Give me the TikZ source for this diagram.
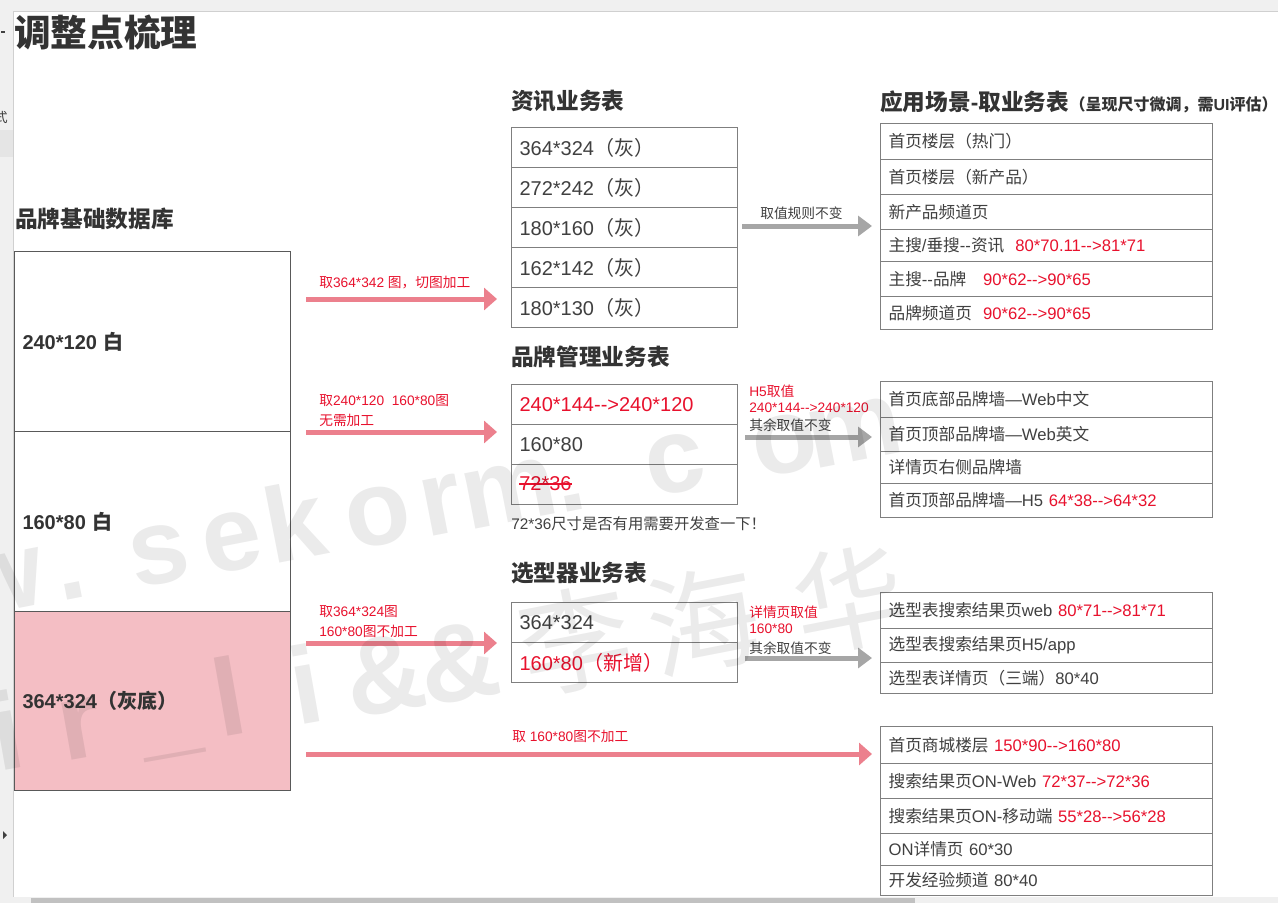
\documentclass[tikz,border=0pt]{standalone}
\usepackage{fontspec}
\setmainfont{Liberation Sans}
\newfontfamily\cjkf{Noto Sans CJK SC}
\newfontfamily\latf{Liberation Sans}
\usetikzlibrary{arrows.meta}
\XeTeXinterchartokenstate=1
\newXeTeXintercharclass\mycjk
\newcount\cidx
\cidx="3000 \loop \XeTeXcharclass\cidx=\mycjk \advance\cidx by 1 \ifnum\cidx<"3040 \repeat
\cidx="4E00 \loop \XeTeXcharclass\cidx=\mycjk \advance\cidx by 1 \ifnum\cidx<"A000 \repeat
\cidx="FF00 \loop \XeTeXcharclass\cidx=\mycjk \advance\cidx by 1 \ifnum\cidx<"FFF0 \repeat
\XeTeXcharclass"2014=0
\XeTeXinterchartoks 0 \mycjk = {\cjkf}
\XeTeXinterchartoks 4095 \mycjk = {\cjkf}
\XeTeXinterchartoks \mycjk 0 = {\latf}
\XeTeXinterchartoks \mycjk 4095 = {\latf}
\newcommand{\dd}{-\kern0pt-}
\definecolor{txt}{HTML}{404040}
\definecolor{hd}{HTML}{333333}
\definecolor{rd}{HTML}{E8112D}
\definecolor{pk}{HTML}{EC808D}
\definecolor{gy}{HTML}{A6A6A6}
\definecolor{bd}{HTML}{7F7F7F}
\definecolor{lbd}{HTML}{595959}
\definecolor{pfill}{HTML}{F4BEC4}
\definecolor{chrome}{HTML}{F0F0F0}
\definecolor{chromeln}{HTML}{D0D0D0}
\definecolor{thumb}{HTML}{C1C1C1}
\tikzset{
  cellbox/.style={draw=bd, line width=0.9pt, anchor=north west, inner xsep=6pt, inner ysep=0pt, align=left, text=txt},
  ltab/.style={cellbox, font=\fontsize{15pt}{18pt}\selectfont},
  rtab/.style={cellbox, font=\fontsize{12.5pt}{15pt}\selectfont},
  lbox/.style={cellbox, draw=lbd, line width=0.75pt, font=\bfseries\fontsize{15pt}{18pt}\selectfont, text=hd},
  head/.style={anchor=west, inner sep=0pt, text=hd, font=\bfseries\fontsize{17pt}{20pt}\selectfont},
  lab/.style={anchor=west, inner sep=0pt, font=\fontsize{10.3pt}{12pt}\selectfont},
  pkarrow/.style={draw=pk, line width=3.75pt, -{Triangle[length=9.75pt,width=16.5pt]}},
  gyarrow/.style={draw=gy, line width=3.75pt, -{Triangle[length=10.5pt,width=15pt]}},
  wm/.style={inner sep=0pt, anchor=base},
}
\newcommand{\mkcell}[7]{%
  \pgfmathsetlengthmacro\mkcw{(#4-#3)*0.75pt}%
  \pgfmathsetlengthmacro\mkch{(#6-#5)*0.75pt}%
  \pgfmathsetlengthmacro\mktw{(#4-#3)*0.75pt-12pt}%
  \node[#1, minimum width=\mkcw, minimum height=\mkch, text width=\mktw] (#2) at (#3,#5) {#7};}
\begin{document}
\begin{tikzpicture}[x=0.75pt, y=-0.75pt]
\useasboundingbox (0,0) rectangle (1278,903);
\fill[white] (0,0) rectangle (1278,903);
% window chrome
\fill[chrome] (0,0) rectangle (1278,11);
\draw[chromeln, line width=0.75pt] (13,11) -- (1278,11);
\fill[chrome] (0,11) rectangle (13,903);
\fill[black!10] (0,130) rectangle (13,157);
\draw[chromeln, line width=0.75pt] (13,11) -- (13,897);
\begin{scope}
  \clip (0,11) rectangle (13,903);
  \node[inner sep=0pt, text=txt, font=\fontsize{10pt}{12pt}\selectfont] (sbt) at (1,117) {式};
\end{scope}
\draw[txt, line width=0.9pt] (1,32) -- (5,32);
\fill[txt] (3,831) -- (7,835) -- (3,839) -- cycle;
\fill[chrome] (13,897) rectangle (1278,903);
\fill[thumb] (31,898) rectangle (915,903);

% title and headings
\node[anchor=west, inner sep=0pt, text=hd, font=\bfseries\fontsize{27.5pt}{30pt}\selectfont] (title) at (14,32) {调整点梳理};
\node[head] (h0) at (15,219) {品牌基础数据库};
\node[head] (h1) at (511,101) {资讯业务表};
\node[head] (h2) at (511,357) {品牌管理业务表};
\node[head] (h3) at (511,573) {选型器业务表};
\node[head] (h4) at (880,102) {应用场景-取业务表};
\node[anchor=base west, inner sep=0pt, text=hd, font=\bfseries\fontsize{12pt}{14pt}\selectfont] (h4s) at (h4.base east) {（呈现尺寸微调，需UI评估）};

% left data base box
\mkcell{lbox}{lb1}{14}{290}{251}{431}{240*120 白}
\mkcell{lbox}{lb2}{14}{290}{431}{611}{160*80 白}
\mkcell{lbox, fill=pfill}{lb3}{14}{290}{611}{790}{364*324（灰底）}

% table 1
\mkcell{ltab}{a1}{511}{737}{127}{167}{364*324（灰）}
\mkcell{ltab}{a2}{511}{737}{167}{207}{272*242（灰）}
\mkcell{ltab}{a3}{511}{737}{207}{247}{180*160（灰）}
\mkcell{ltab}{a4}{511}{737}{247}{287}{162*142（灰）}
\mkcell{ltab}{a5}{511}{737}{287}{327}{180*130（灰）}
% table 2
\mkcell{ltab}{b1}{511}{737}{384}{424}{{\color{rd}240*144\dd{}>240*120}}
\mkcell{ltab}{b2}{511}{737}{424}{464}{160*80}
\mkcell{ltab}{b3}{511}{737}{464}{504}{}
\node[anchor=west, inner sep=0pt, text=rd, font=\fontsize{15pt}{18pt}\selectfont] (s72) at (519,484) {72*36};
\draw[rd, line width=1.2pt] (s72.west) -- (s72.east);
\node[anchor=west, inner sep=0pt, text=txt, font=\fontsize{11.5pt}{14pt}\selectfont] (note) at (511,524) {72*36尺寸是否有用需要开发查一下！};
% table 3
\mkcell{ltab}{c1}{511}{737}{602}{642}{364*324}
\mkcell{ltab}{c2}{511}{737}{642}{682}{{\color{rd}160*80（新增）}}

% right tables
\mkcell{rtab}{d1}{880}{1212}{123}{159}{首页楼层（热门）}
\mkcell{rtab}{d2}{880}{1212}{159}{194}{首页楼层（新产品）}
\mkcell{rtab}{d3}{880}{1212}{194}{229}{新产品频道页}
\mkcell{rtab}{d4}{880}{1212}{229}{261}{主搜/垂搜\dd{}资讯\ \ {\color{rd}80*70.11\dd{}>81*71}}
\mkcell{rtab}{d5}{880}{1212}{261}{296}{主搜\dd{}品牌\ \ \ {\color{rd}90*62\dd{}>90*65}}
\mkcell{rtab}{d6}{880}{1212}{296}{329}{品牌频道页\ \ {\color{rd}90*62\dd{}>90*65}}

\mkcell{rtab}{e1}{880}{1212}{381}{417}{首页底部品牌墙—Web中文}
\mkcell{rtab}{e2}{880}{1212}{417}{451}{首页顶部品牌墙—Web英文}
\mkcell{rtab}{e3}{880}{1212}{451}{483}{详情页右侧品牌墙}
\mkcell{rtab}{e4}{880}{1212}{483}{517}{首页顶部品牌墙—H5 {\color{rd}64*38\dd{}>64*32}}

\mkcell{rtab}{f1}{880}{1212}{592}{628}{选型表搜索结果页web {\color{rd}80*71\dd{}>81*71}}
\mkcell{rtab}{f2}{880}{1212}{628}{662}{选型表搜索结果页H5/app}
\mkcell{rtab}{f3}{880}{1212}{662}{693}{选型表详情页（三端）80*40}

\mkcell{rtab}{g1}{880}{1212}{726}{763}{首页商城楼层 {\color{rd}150*90\dd{}>160*80}}
\mkcell{rtab}{g2}{880}{1212}{763}{798}{搜索结果页ON-Web {\color{rd}72*37\dd{}>72*36}}
\mkcell{rtab}{g3}{880}{1212}{798}{833}{搜索结果页ON-移动端 {\color{rd}55*28\dd{}>56*28}}
\mkcell{rtab}{g4}{880}{1212}{833}{865}{ON详情页 60*30}
\mkcell{rtab}{g5}{880}{1212}{865}{895}{开发经验频道 80*40}

% pink arrows
\coordinate (p1s) at (306,299); \coordinate (p1e) at (497,299);
\coordinate (p2s) at (306,432); \coordinate (p2e) at (497,432);
\coordinate (p3s) at (306,643); \coordinate (p3e) at (497,643);
\coordinate (p4s) at (306,754); \coordinate (p4e) at (872,754);
\draw[pkarrow] (p1s) -- (p1e);
\draw[pkarrow] (p2s) -- (p2e);
\draw[pkarrow] (p3s) -- (p3e);
\draw[pkarrow] (p4s) -- (p4e);
\node[lab, text=rd] (l1) at (319,283) {取364*342 图，切图加工};
\node[lab, text=rd] (l2a) at (319,401) {取240*120\ \ 160*80图};
\node[lab, text=rd] (l2b) at (319,420) {无需加工};
\node[lab, text=rd] (l3a) at (319,612) {取364*324图};
\node[lab, text=rd] (l3b) at (319,631) {160*80图不加工};
\node[lab, text=rd] (l4) at (512,736) {取 160*80图不加工};

% gray arrows
\coordinate (q1s) at (742,226); \coordinate (q1e) at (872,226);
\coordinate (q2s) at (745,437); \coordinate (q2e) at (872,437);
\coordinate (q3s) at (745,658); \coordinate (q3e) at (872,658);
\draw[gyarrow] (q1s) -- (q1e);
\draw[gyarrow] (q2s) -- (q2e);
\draw[gyarrow] (q3s) -- (q3e);
\node[lab, text=txt] (m1) at (760,213) {取值规则不变};
\node[lab, text=rd] (m2a) at (749,391) {H5取值};
\node[lab, text=rd] (m2b) at (749,408) {240*144\dd{}>240*120};
\node[lab, text=txt] (m2c) at (749,425) {其余取值不变};
\node[lab, text=rd] (m3a) at (749,612) {详情页取值};
\node[lab, text=rd] (m3b) at (749,629) {160*80};
\node[lab, text=txt] (m3c) at (749,648) {其余取值不变};

% watermark
\begin{scope}[opacity=0.08]
\foreach \wc/\xx in {w/8, ./75, s/165, e/238, k/302, o/383, r/447, m/515, ./575, c/681, o/790, m/860}{
  \pgfmathsetmacro\yy{583-0.177*(\xx-165)}
  \node[wm, rotate=11, font=\bfseries\fontsize{80pt}{86pt}\selectfont] at (\xx,\yy) {\wc};
}
\foreach \wc/\xx in {i/13, r/85, \_/173, l/235, i/312, \&/391, \&/465}{
  \pgfmathsetmacro\yy{735-0.152*(\xx-235)}
  \node[wm, rotate=10, font=\bfseries\fontsize{82pt}{88pt}\selectfont] at (\xx,\yy) {\wc};
}
\foreach \wc/\xx in {李/583, 海/711, 华/857}{
  \pgfmathsetmacro\yy{735-0.152*(\xx-235)}
  \node[wm, rotate=11, font=\fontsize{84pt}{88pt}\selectfont] at (\xx,\yy) {\wc};
}
\end{scope}
\end{tikzpicture}
\end{document}
